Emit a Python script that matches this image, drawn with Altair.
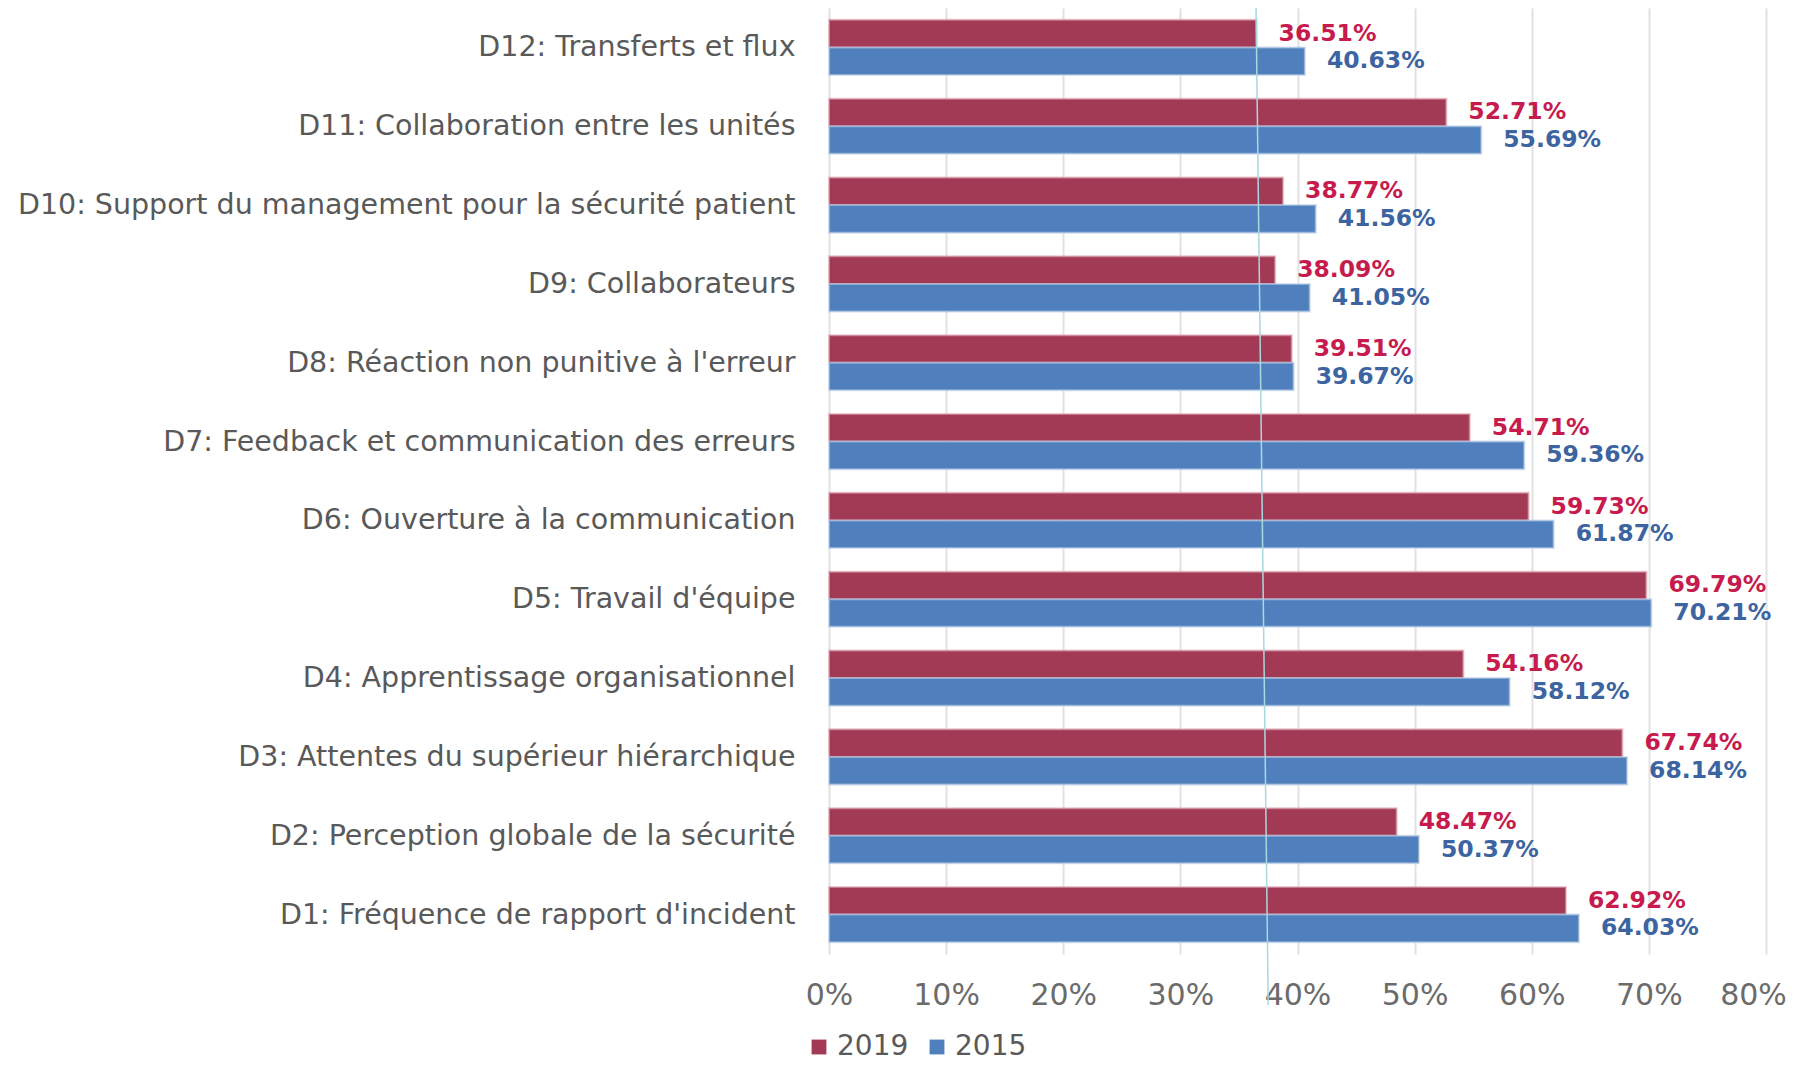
import altair as alt
import pandas as pd

categories = [
    "D1: Fréquence de rapport d'incident",
    "D2: Perception globale de la sécurité",
    "D3: Attentes du supérieur hiérarchique",
    "D4: Apprentissage organisationnel",
    "D5: Travail d'équipe",
    "D6: Ouverture à la communication",
    "D7: Feedback et communication des erreurs",
    "D8: Réaction non punitive à l'erreur",
    "D9: Collaborateurs",
    "D10: Support du management pour la sécurité patient",
    "D11: Collaboration entre les unités",
    "D12: Transferts et flux",
]
values_2019 = [62.92, 48.47, 67.74, 54.16, 69.79, 59.73, 54.71, 39.51, 38.09, 38.77, 52.71, 36.51]
values_2015 = [64.03, 50.37, 68.14, 58.12, 70.21, 61.87, 59.36, 39.67, 41.05, 41.56, 55.69, 40.63]
series = ["2019", "2015"]
x_ticks = [0, 10, 20, 30, 40, 50, 60, 70, 80]
ref_line_x = [36.45]
ref_line_x2 = [37.5]

rows = []
for c, a, b in zip(categories, values_2019, values_2015):
    rows.append({"cat": c, "series": "2019", "value": a})
    rows.append({"cat": c, "series": "2015", "value": b})
df = pd.DataFrame(rows)
df["label"] = df["value"].map(lambda v: f"{v:.2f}%")

y_order = categories[::-1]
FONT = "DejaVu Sans"

y_enc = alt.Y("cat:N", sort=y_order,
              scale=alt.Scale(paddingInner=0.3, paddingOuter=0.15),
              axis=alt.Axis(title=None, domain=False, ticks=False, grid=False,
                            labelPadding=34, labelFontSize=28.5, labelFont=FONT,
                            labelColor="#595959", labelLimit=1000))
yoff = alt.YOffset("series:N", scale=alt.Scale(domain=series, paddingInner=0, paddingOuter=0))
x_enc = alt.X("value:Q", scale=alt.Scale(domain=[0, 80], nice=False),
              axis=alt.Axis(title=None, values=x_ticks, domain=False, ticks=False,
                            grid=True, gridColor="#E2E2E2", gridWidth=2,
                            labelExpr="datum.value + '%'", labelFontSize=30,
                            labelFont=FONT, labelColor="#6b6b6b", labelPadding=26,
                            labelFlush=False, labelBound=False,
                            labelOffset={"condition": {"test": "datum.value == 80", "value": -13}, "value": 0}))

base = alt.Chart(df)

bars = base.mark_bar(strokeWidth=2, strokeOpacity=0.6).encode(
    x=x_enc,
    y=y_enc,
    yOffset=yoff,
    color=alt.Color("series:N", scale=alt.Scale(domain=series, range=["#A33A55", "#4F80BD"]),
                    legend=alt.Legend(title=None, orient="none", legendX=-24, legendY=1025,
                                      direction="horizontal", symbolType="square",
                                      symbolSize=220, labelFontSize=28, labelFont=FONT,
                                      labelColor="#595959", columnPadding=14,
                                      symbolStrokeWidth=0)),
    stroke=alt.Stroke("series:N", scale=alt.Scale(domain=series, range=["#DDA5B3", "#B9CDE6"]),
                      legend=None),
)

txt19 = base.transform_filter(alt.datum.series == "2019").mark_text(
    align="left", baseline="middle", dx=22, font=FONT, fontSize=23.5, fontWeight="bold",
    color="#C71B4E").encode(x="value:Q", y=alt.Y("cat:N", sort=y_order), yOffset=yoff, text="label:N")
txt15 = base.transform_filter(alt.datum.series == "2015").mark_text(
    align="left", baseline="middle", dx=22, font=FONT, fontSize=23.5, fontWeight="bold",
    color="#3C64A0").encode(x="value:Q", y=alt.Y("cat:N", sort=y_order), yOffset=yoff, text="label:N")

line_df = pd.DataFrame({"x": ref_line_x, "x2": ref_line_x2})
rule = alt.Chart(line_df).mark_rule(color="#A8D8E0", strokeWidth=1.5).encode(
    x="x:Q", x2="x2:Q", y=alt.value(-10), y2=alt.value(997))

chart = alt.layer(bars, rule, txt19, txt15).properties(
    width=937, height=946,
    autosize=alt.AutoSizeParams(type="none"),
    padding={"left": 821, "top": 0, "right": 27, "bottom": 112},
).configure_view(stroke=None)

chart.save("out.html", embed_options={"renderer": "svg", "actions": False})
